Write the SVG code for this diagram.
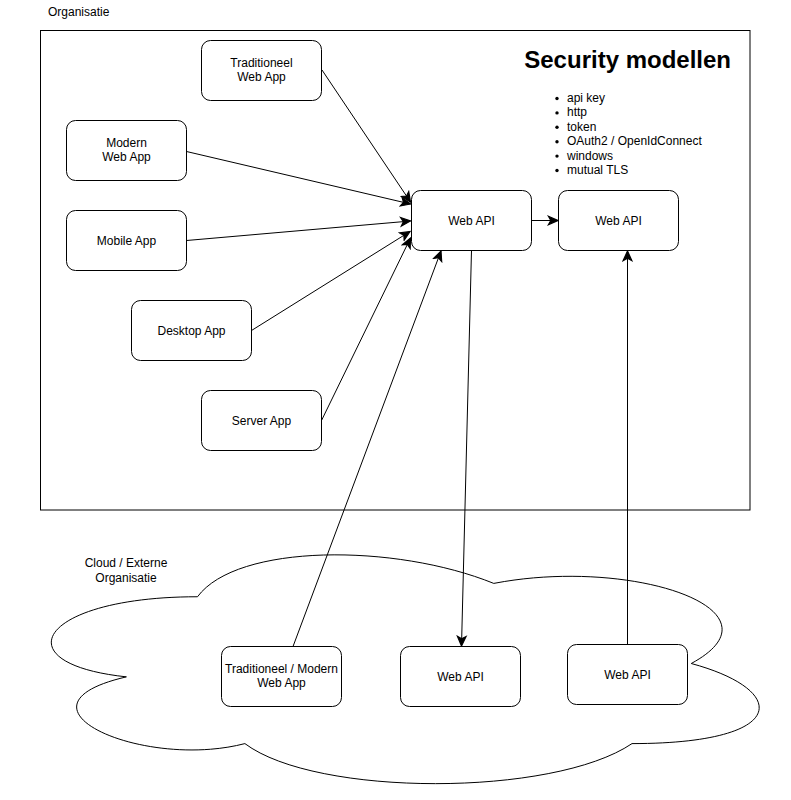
<svg xmlns="http://www.w3.org/2000/svg" width="791" height="800" viewBox="0 0 791 800">
<style>
text{font-family:"Liberation Sans",Arial,sans-serif;font-size:12px;fill:#000}
.c{text-anchor:middle}
.box{fill:#fff;stroke:#000;stroke-width:1}
.edge{fill:none;stroke:#000;stroke-width:1}
</style>
<defs>
<marker id="arr" markerUnits="userSpaceOnUse" markerWidth="12" markerHeight="12" viewBox="-9 -5 10 10" refX="0" refY="0" orient="auto">
<path d="M-8,-3.6 L0,0 L-8,3.6 L-6,0 Z" fill="#000" stroke="#000" stroke-width="1"/>
</marker>
</defs>
<rect width="791" height="800" fill="#fff"/>
<g id="organisatie">
<rect x="40.5" y="30.5" width="709.5" height="479.5" fill="none" stroke="#000" stroke-width="1"/>
<text x="48" y="15.5">Organisatie</text>
</g>
<g id="cloud">
<path class="box" d="M197.5,596.75 C39.5,596.75 0,663.5 126.4,676.85 C0,706.22 142.2,770.3 244.9,743.6 C316,797 553,797 632,743.6 C790,743.6 790,690.2 691.25,663.5 C790,610.1 632,556.7 493.75,583.4 C395,543.35 237,543.35 197.5,596.75 Z"/>
<text class="c" x="126" y="567">Cloud / Externe</text>
<text class="c" x="126" y="581.5">Organisatie</text>
</g>
<g id="title">
<text x="731" y="68" style="font-size:24px;font-weight:bold;text-anchor:end">Security modellen</text>
</g>
<g id="security-list">
<circle cx="557" cy="98.5" r="1.7"/><text x="567" y="102">api key</text>
<circle cx="557" cy="112.9" r="1.7"/><text x="567" y="116.4">http</text>
<circle cx="557" cy="127.3" r="1.7"/><text x="567" y="130.8">token</text>
<circle cx="557" cy="141.7" r="1.7"/><text x="567" y="145.2">OAuth2 / OpenIdConnect</text>
<circle cx="557" cy="156.1" r="1.7"/><text x="567" y="159.6">windows</text>
<circle cx="557" cy="170.5" r="1.7"/><text x="567" y="174">mutual TLS</text>
</g>
<g id="connectors">
<line class="edge" x1="322" y1="70" x2="410.5" y2="202" marker-end="url(#arr)"/>
<line class="edge" x1="186.5" y1="151.5" x2="410.5" y2="204" marker-end="url(#arr)"/>
<line class="edge" x1="186.5" y1="240.5" x2="410.5" y2="221" marker-end="url(#arr)"/>
<line class="edge" x1="251.5" y1="330.5" x2="410" y2="231.5" marker-end="url(#arr)"/>
<line class="edge" x1="321.5" y1="420.5" x2="410.5" y2="238" marker-end="url(#arr)"/>
<line class="edge" x1="293" y1="646.5" x2="441" y2="251" marker-end="url(#arr)"/>
<line class="edge" x1="471.5" y1="250.5" x2="461.5" y2="646" marker-end="url(#arr)"/>
<line class="edge" x1="531.5" y1="220.5" x2="558" y2="220.5" marker-end="url(#arr)"/>
<line class="edge" x1="627.5" y1="644.5" x2="627.5" y2="251" marker-end="url(#arr)"/>
</g>
<g id="trad-web-app">
<rect class="box" x="201.5" y="40.5" width="120" height="60" rx="9"/>
<text class="c" x="261.5" y="66.5">Traditioneel</text>
<text class="c" x="261.5" y="81">Web App</text>
</g>
<g id="modern-web-app">
<rect class="box" x="66.5" y="120.5" width="120" height="60" rx="9"/>
<text class="c" x="126.5" y="146.5">Modern</text>
<text class="c" x="126.5" y="161">Web App</text>
</g>
<g id="mobile-app">
<rect class="box" x="66.5" y="210.5" width="120" height="60" rx="9"/>
<text class="c" x="126.5" y="245">Mobile App</text>
</g>
<g id="desktop-app">
<rect class="box" x="131.5" y="300.5" width="120" height="60" rx="9"/>
<text class="c" x="191.5" y="335">Desktop App</text>
</g>
<g id="server-app">
<rect class="box" x="201.5" y="390.5" width="120" height="60" rx="9"/>
<text class="c" x="261.5" y="425">Server App</text>
</g>
<g id="web-api-1">
<rect class="box" x="411.5" y="190.5" width="120" height="60" rx="9"/>
<text class="c" x="471.5" y="225">Web API</text>
</g>
<g id="web-api-2">
<rect class="box" x="558.5" y="190.5" width="120" height="60" rx="9"/>
<text class="c" x="618.5" y="225">Web API</text>
</g>
<g id="cloud-web-app">
<rect class="box" x="221.5" y="646.5" width="120" height="60" rx="9"/>
<text class="c" x="281.5" y="672.5">Traditioneel / Modern</text>
<text class="c" x="281.5" y="687">Web App</text>
</g>
<g id="cloud-web-api-1">
<rect class="box" x="400.5" y="646.5" width="120" height="60" rx="9"/>
<text class="c" x="460.5" y="681">Web API</text>
</g>
<g id="cloud-web-api-2">
<rect class="box" x="567.5" y="644.5" width="120" height="60" rx="9"/>
<text class="c" x="627.5" y="679">Web API</text>
</g>
</svg>
